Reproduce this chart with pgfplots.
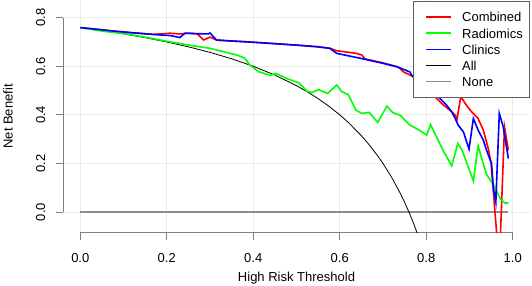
\documentclass[border=0pt]{standalone}
\usepackage{fontspec}
\setmainfont{Liberation Sans}
\usepackage{pgfplots}
\pgfplotsset{compat=1.18}
\definecolor{axisgray}{HTML}{7F7F7F}
\definecolor{gridgray}{HTML}{EBEBEB}
\definecolor{nonegray}{HTML}{8C8C8C}
\definecolor{legborder}{HTML}{606060}
\definecolor{rred}{HTML}{FF0000}
\definecolor{rgreen}{HTML}{00FF00}
\definecolor{rblue}{HTML}{0000FF}
\begin{document}
\begin{tikzpicture}[font=\fontsize{13bp}{15.6bp}\selectfont]
\useasboundingbox (0,0) rectangle (532bp,286bp);
\begin{axis}[
  at={(63bp,53.3bp)}, anchor=south west,
  scale only axis, width=467bp, height=232.7bp,
  xmin=-0.04, xmax=1.04, ymin=-0.0852, ymax=0.8728,
  axis line style={draw=none},
  xtick={0,0.2,0.4,0.6,0.8,1}, xticklabels={0.0,0.2,0.4,0.6,0.8,1.0},
  ytick={0,0.2,0.4,0.6,0.8}, yticklabels={0.0,0.2,0.4,0.6,0.8},
  tick align=outside, tick pos=left, major tick length=7bp,
  tick style={axisgray, line width=1bp},
  grid=major, grid style={gridgray, line width=1bp},
  xticklabel style={anchor=base, yshift=-23bp},
  yticklabel style={xshift=-11bp, rotate=90, anchor=base},
  xlabel={High Risk Threshold}, ylabel={Net Benefit},
  xlabel style={at={(axis description cs:0.5,-0.2106)}, anchor=base},
  ylabel style={at={(axis description cs:-0.1077,0.5)}, anchor=base},
  clip mode=individual,
  legend cell align=left,
  legend style={at={(axis description cs:0.7488,0.9957)}, anchor=north west,
    draw=legborder, line width=1bp, fill=white,
    inner xsep=0pt, inner ysep=7.5bp, row sep=0pt,
    nodes={inner sep=0pt, text height=13bp, text depth=3.2bp},
    font=\fontsize{13bp}{15.6bp}\selectfont},
  legend image code/.code={\path[draw=none] (-13bp,0bp) -- (36bp,0bp); \draw[#1] (0bp,0bp) -- (25bp,0bp);},
]
\draw[axisgray, line width=1bp] (axis cs:0,-0.0852) -- (axis cs:1,-0.0852);
\draw[axisgray, line width=1bp] (axis cs:-0.04,0) -- (axis cs:-0.04,0.8);

% None
\addplot[nonegray, line width=1.2bp, forget plot] coordinates {(0,0) (0.99,0)};
% All
\addplot[black, line width=0.8bp, forget plot] coordinates {
(0,0.76) (0.05,0.7474) (0.1,0.7333) (0.15,0.7176) (0.2,0.70) (0.25,0.68)
(0.3,0.6571) (0.35,0.6308) (0.4,0.60) (0.45,0.5636) (0.5,0.52) (0.525,0.4947)
(0.55,0.4667) (0.575,0.4353) (0.6,0.40) (0.62,0.3684) (0.65,0.3143) (0.67,0.2727)
(0.69,0.2258) (0.7,0.20) (0.72,0.1429) (0.74,0.0769) (0.75,0.04) (0.76,0.0)
(0.77,-0.0435) (0.78,-0.0909) (0.79,-0.1429)};

% Combined
\addplot[rred, line width=1.6bp] coordinates {
(0,0.759) (0.05,0.750) (0.076,0.745) (0.12,0.738) (0.169,0.731) (0.207,0.736)
(0.23,0.733) (0.25,0.736) (0.27,0.734) (0.285,0.708) (0.30,0.720) (0.315,0.708)
(0.34,0.705) (0.39,0.700) (0.45,0.693) (0.50,0.687) (0.55,0.680) (0.577,0.674)
(0.593,0.664) (0.639,0.653) (0.651,0.646) (0.659,0.630) (0.70,0.614) (0.735,0.597)
(0.739,0.591) (0.747,0.577) (0.766,0.561) (0.78,0.540) (0.80,0.510) (0.824,0.468)
(0.84,0.440) (0.855,0.419) (0.867,0.399) (0.871,0.381) (0.88,0.475) (0.89,0.447)
(0.905,0.412) (0.92,0.385) (0.932,0.337) (0.944,0.258) (0.95,0.200) (0.9635,-0.10)
(0.9715,-0.10) (0.981,0.350) (0.99,0.254)};
\addlegendentry{Combined}

% Radiomics
\addplot[rgreen, line width=1.6bp] coordinates {
(0,0.759) (0.053,0.744) (0.1,0.735) (0.15,0.720) (0.2,0.703) (0.254,0.686)
(0.30,0.674) (0.362,0.646) (0.380,0.634) (0.392,0.605) (0.412,0.578) (0.440,0.562)
(0.452,0.571) (0.477,0.550) (0.506,0.531) (0.524,0.498) (0.536,0.492) (0.551,0.504)
(0.572,0.488) (0.593,0.523) (0.605,0.495) (0.620,0.483) (0.637,0.420) (0.651,0.406)
(0.668,0.410) (0.688,0.369) (0.709,0.436) (0.722,0.410) (0.740,0.398) (0.762,0.358)
(0.784,0.337) (0.801,0.316) (0.810,0.360) (0.820,0.323) (0.840,0.250) (0.859,0.190)
(0.873,0.282) (0.883,0.254) (0.909,0.128) (0.920,0.272) (0.939,0.156) (0.951,0.124)
(0.959,0.100) (0.971,0.055) (0.982,0.037) (0.990,0.037)};
\addlegendentry{Radiomics\hspace*{7.1bp}}

% Clinics
\addplot[rblue, line width=1.6bp] coordinates {
(0,0.759) (0.05,0.750) (0.076,0.745) (0.12,0.738) (0.169,0.731) (0.21,0.726)
(0.23,0.718) (0.242,0.736) (0.27,0.734) (0.296,0.733) (0.30,0.737) (0.315,0.708)
(0.34,0.705) (0.39,0.700) (0.45,0.693) (0.50,0.687) (0.55,0.680) (0.577,0.674)
(0.593,0.653) (0.655,0.630) (0.70,0.612) (0.732,0.598) (0.762,0.577) (0.766,0.564)
(0.78,0.545) (0.80,0.515) (0.828,0.474) (0.847,0.440) (0.859,0.412) (0.867,0.385)
(0.874,0.357) (0.886,0.330) (0.899,0.259) (0.909,0.385) (0.920,0.337) (0.932,0.296)
(0.941,0.247) (0.951,0.200) (0.955,0.103) (0.961,0.041) (0.969,0.406) (0.978,0.351)
(0.990,0.220)};
\addlegendentry{Clinics}

\addlegendimage{black, line width=0.8bp}
\addlegendentry{All}
\addlegendimage{nonegray, line width=1.2bp}
\addlegendentry{None}
\end{axis}
\end{tikzpicture}
\end{document}
